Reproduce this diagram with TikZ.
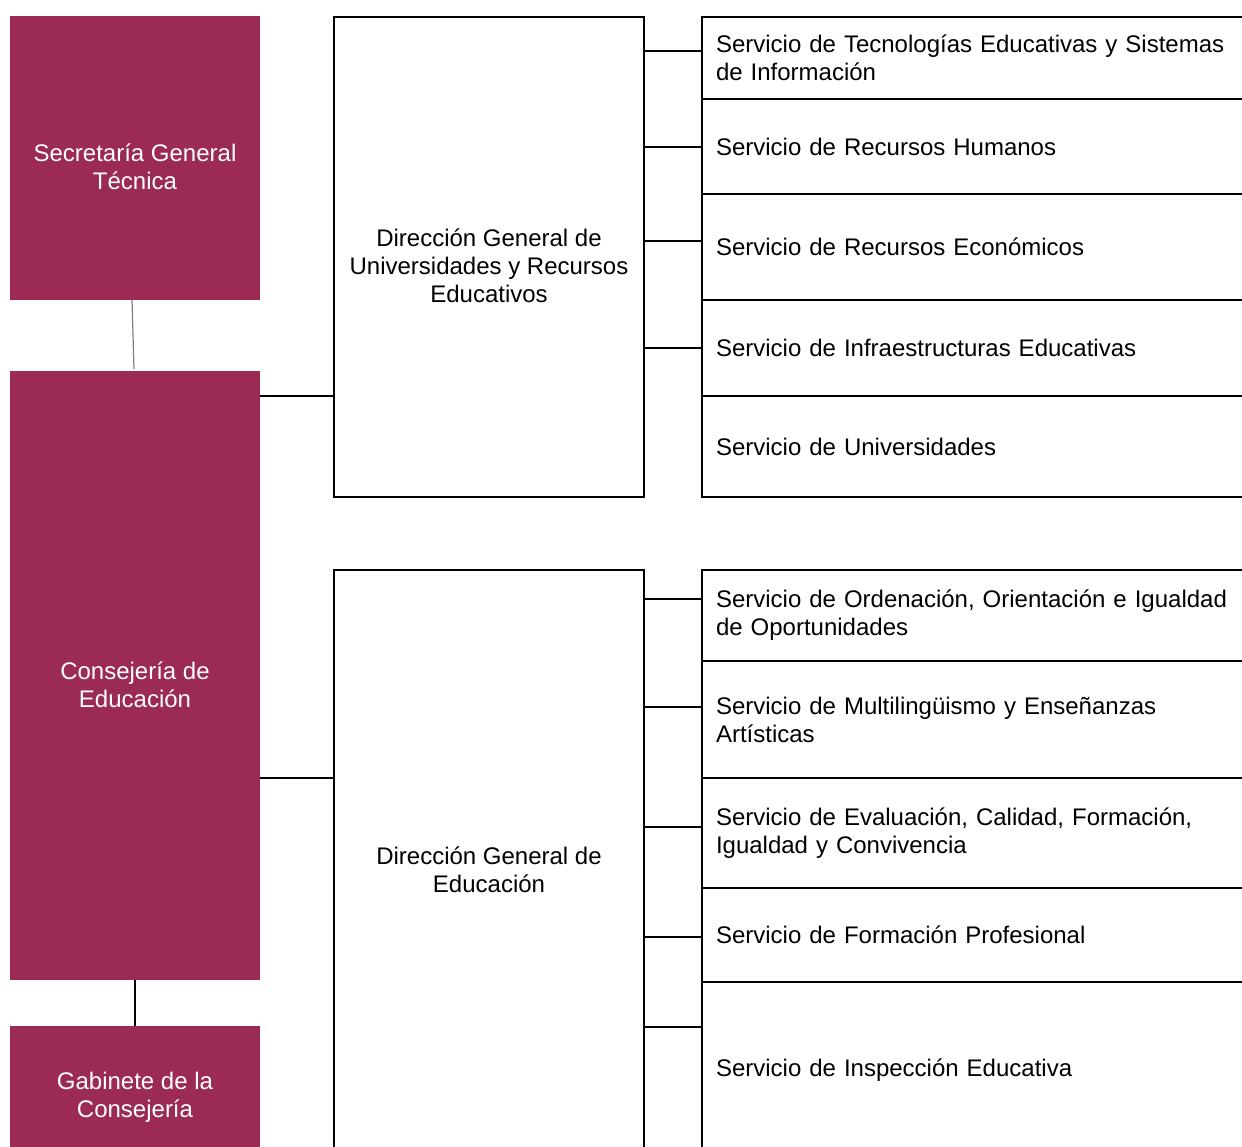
\documentclass[tikz,border=0pt]{standalone}
\usepackage{fontspec}
\setmainfont{Liberation Sans}
\usetikzlibrary{positioning}
\definecolor{granate}{RGB}{155,42,85}
\tikzset{
  organo/.style={fill=granate, anchor=north west, minimum width=125pt, inner sep=0pt, outer sep=0pt},
  organotxt/.style={text=white, align=center, font=\fontsize{12}{14}\selectfont},
  direccion/.style={draw, line width=1.1pt, anchor=north west, minimum width=155pt, inner sep=0pt, outer sep=0pt},
  direcciontxt/.style={align=center, font=\fontsize{12}{14}\selectfont},
  servicio/.style={draw, line width=1.1pt, outer sep=0pt, text width=262pt, inner xsep=7pt, align=left, font=\fontsize{12}{14}\selectfont},
  enlace/.style={line width=1.1pt},
  enlacefino/.style={gray, line width=0.6pt}
}
\begin{document}
\begin{tikzpicture}[x=0.5pt,y=-0.5pt]
\useasboundingbox (0,0) rectangle (1242,1146);
\clip (0,0) rectangle (1242,1146);
\node[organo, minimum height=142pt] (sgt) at (10,16) {};
\node[organo, minimum height=304.5pt] (ceu) at (10,371) {};
\node[organo, minimum height=71.5pt] (gab) at (10,1026) {};
\node[organotxt] (sgt-t) at ([yshift=-4.5pt]sgt.center) {Secretaría General\\Técnica};
\node[organotxt] (ceu-t) at ([yshift=-4.5pt]ceu.center) {Consejería de\\Educación};
\node[organotxt] (gab-t) at (gab.center) {Gabinete de la\\Consejería};
\node[direccion, minimum height=240pt] (dgu) at (334,17) {};
\node[direccion, minimum height=300pt] (dge) at (334,570) {};
\node[direcciontxt] (dgu-t) at ([yshift=-4.5pt]dgu.center) {Dirección General de\\Universidades y Recursos\\Educativos};
\node[direcciontxt] (dge-t) at (dge.center) {Dirección General de\\Educación};
\node[servicio, anchor=north west, minimum height=41pt] (sv1) at (702,17) {Servicio de Tecnologías Educativas y Sistemas\\de Información};
\node[servicio, below=0pt of sv1, minimum height=47.5pt] (sv2) {Servicio de Recursos Humanos};
\node[servicio, below=0pt of sv2, minimum height=53pt] (sv3) {Servicio de Recursos Económicos};
\node[servicio, below=0pt of sv3, minimum height=48pt] (sv4) {Servicio de Infraestructuras Educativas};
\node[servicio, below=0pt of sv4, minimum height=50.5pt] (sv5) {Servicio de Universidades};
\node[servicio, anchor=north west, minimum height=45.5pt] (se1) at (702,570) {Servicio de Ordenación, Orientación e Igualdad\\de Oportunidades};
\node[servicio, below=0pt of se1, minimum height=58.5pt] (se2) {Servicio de Multilingüismo y Enseñanzas\\Artísticas};
\node[servicio, below=0pt of se2, minimum height=55pt] (se3) {Servicio de Evaluación, Calidad, Formación,\\Igualdad y Convivencia};
\node[servicio, below=0pt of se3, minimum height=47pt] (se4) {Servicio de Formación Profesional};
\node[servicio, below=0pt of se4, minimum height=88pt] (se5) {Servicio de Inspección Educativa};
\draw[enlacefino] ([xshift=-1.5pt]sgt.south) -- ([xshift=-0.5pt,yshift=1pt]ceu.north);
\draw[enlace] (ceu.south) -- (gab.north);
\draw[enlace] (ceu.east |- 0,396) -- (dgu.west |- 0,396);
\draw[enlace] (ceu.east |- 0,778) -- (dge.west |- 0,778);
\foreach \s/\y in {sv1/51,sv2/147,sv3/241,sv4/348}
  \draw[enlace] (dgu.east |- 0,\y) -- (\s.west |- 0,\y);
\foreach \s/\y in {se1/599,se2/707,se3/827,se4/937,se5/1027}
  \draw[enlace] (dge.east |- 0,\y) -- (\s.west |- 0,\y);
\end{tikzpicture}
\end{document}
